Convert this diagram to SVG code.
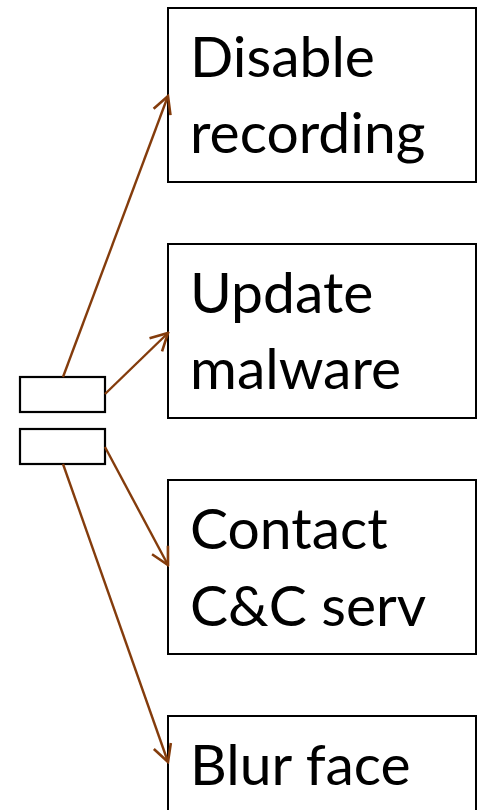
<svg xmlns="http://www.w3.org/2000/svg" width="481" height="810" viewBox="0 0 481 810">
<style>
.box{fill:#fff;stroke:#000;stroke-width:2}
.sm{fill:#fff;stroke:#000;stroke-width:2.2}
.t{font-family:Lato,"Liberation Sans",sans-serif;font-size:57px;fill:#000}
.c{fill:none;stroke:#843C0C;stroke-width:2.4}
</style>
<defs>
<marker id="ah" viewBox="0 0 24 24" refX="22" refY="12" markerWidth="24" markerHeight="24" markerUnits="userSpaceOnUse" orient="auto">
<path d="M5,3 L22,12 L5,21" fill="none" stroke="#843C0C" stroke-width="2.6"/>
</marker>
</defs>
<g id="n1"><rect class="box" x="168" y="8" width="308" height="174"/><text class="t" x="190" y="77">Disable</text><text class="t" x="190" y="153">recording</text></g>
<g id="n2"><rect class="box" x="168" y="244" width="308" height="174"/><text class="t" x="190" y="313">Update</text><text class="t" x="190" y="389">malware</text></g>
<g id="n3"><rect class="box" x="168" y="480" width="308" height="174"/><text class="t" x="190" y="549">Contact</text><text class="t" x="190" y="626">C&amp;C serv</text></g>
<g id="n4"><rect class="box" x="168" y="716" width="308" height="120"/><text class="t" x="190" y="785">Blur face</text></g>
<g id="s1"><rect class="sm" x="20" y="377" width="85" height="35"/></g>
<g id="s2"><rect class="sm" x="20" y="429" width="85" height="35"/></g>
<g id="connectors">
<line class="c" x1="63" y1="377" x2="168" y2="96" marker-end="url(#ah)"/>
<line class="c" x1="105" y1="394" x2="168" y2="333" marker-end="url(#ah)"/>
<line class="c" x1="105" y1="447" x2="168" y2="565" marker-end="url(#ah)"/>
<line class="c" x1="63" y1="464" x2="168" y2="762" marker-end="url(#ah)"/>
</g>
</svg>
